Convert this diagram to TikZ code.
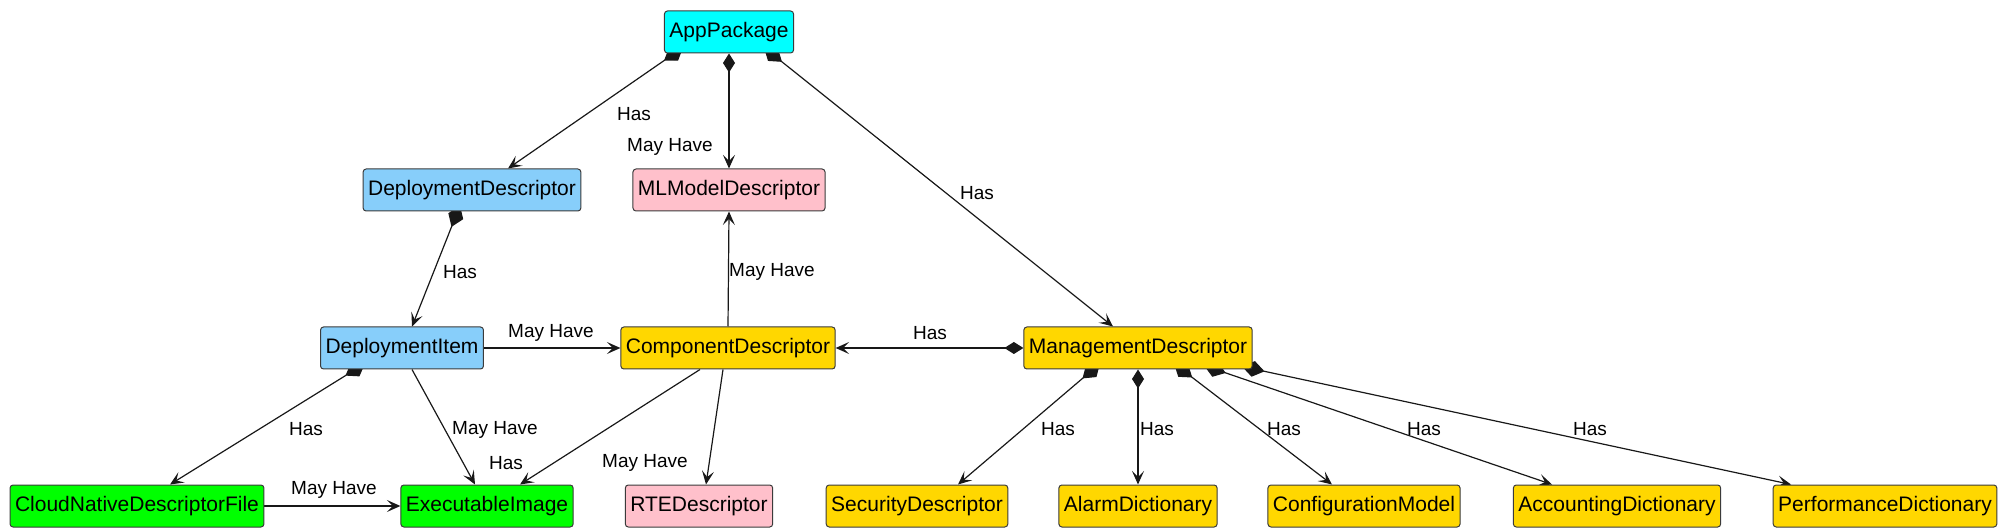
\documentclass[tikz,border=0pt]{standalone}
\usepackage{fontspec}
\setmainfont{Liberation Sans}
\usetikzlibrary{arrows.meta,calc}
\pgfdeclarelayer{bg}
\pgfsetlayers{bg,main}
\definecolor{cAqua}{HTML}{00FFFF}
\definecolor{cSky}{HTML}{87CEFA}
\definecolor{cPink}{HTML}{FFC0CB}
\definecolor{cGold}{HTML}{FFD700}
\definecolor{cLime}{HTML}{00FF00}
\definecolor{cLine}{HTML}{181818}
\begin{document}
\begin{tikzpicture}[x=0.5pt,y=-0.5pt,
  box/.style={draw=cLine!85, line width=0.5pt, rounded corners=1.5pt, minimum height=21pt,
    inner xsep=2.5pt, inner ysep=0pt, font=\fontsize{10.5}{12}\selectfont},
  lbl/.style={font=\fontsize{9.5}{11}\selectfont, inner sep=0pt},
  mayln/.style={draw=cLine, line width=0.6pt, -{Stealth[length=6.75pt,width=6pt,inset=3pt]}},
  hasln/.style={draw=cLine, line width=0.6pt, {Diamond[length=9.5pt,width=6pt]}-{Stealth[length=6.75pt,width=6pt,inset=3pt]}},
  hasbig/.style={hasln, {Diamond[length=11.5pt,width=8pt]}-{Stealth[length=6.75pt,width=6pt,inset=3pt]}}
]
\useasboundingbox (0,0) rectangle (2000,528);
% nodes
\node[box, fill=cAqua] (app) at (729,32) {AppPackage};
\node[box, fill=cSky] (dd) at (472,190) {DeploymentDescriptor};
\node[box, fill=cPink] (ml) at (729,190) {MLModelDescriptor};
\node[box, fill=cSky] (di) at (402,348) {DeploymentItem};
\node[box, fill=cGold] (comp) at (728,348) {ComponentDescriptor};
\node[box, fill=cGold] (mgmt) at (1138,348) {ManagementDescriptor};
\node[box, fill=cLime] (cndf) at (137,506) {CloudNativeDescriptorFile};
\node[box, fill=cLime] (exec) at (487,506) {ExecutableImage};
\node[box, fill=cPink] (rte) at (699,506) {RTEDescriptor};
\node[box, fill=cGold] (sec) at (917,506) {SecurityDescriptor};
\node[box, fill=cGold] (alarm) at (1138,506) {AlarmDictionary};
\node[box, fill=cGold] (config) at (1364,506) {ConfigurationModel};
\node[box, fill=cGold] (acct) at (1617,506) {AccountingDictionary};
\node[box, fill=cGold] (perf) at (1885,506) {PerformanceDictionary};
% connectors
\begin{pgfonlayer}{bg}
\draw[hasbig] ($(app.south)+(-46,-6)$) -- ($(dd.north)+(36,0)$);
\draw[hasln] (app.south) -- (ml.north);
\draw[hasbig] ($(app.south)+(35,-6)$) -- ($(mgmt.north)+(-25,0)$);
\draw[hasbig] ($(dd.south)+(-12,-6)$) -- ($(di.north)+(10,0)$);
\draw[mayln] (di.east) -- (comp.west);
\draw[mayln] (comp.north) -- (ml.south);
\draw[hasln] (mgmt.west) -- (comp.east);
\draw[hasbig] ($(di.south)+(-37,-6)$) -- ($(cndf.north)+(33,0)$);
\draw[mayln] ($(di.south)+(10,0)$) -- ($(exec.north)+(-12,0)$);
\draw[mayln] ($(comp.south)+(-28,0)$) -- ($(exec.north)+(33,0)$);
\draw[mayln] ($(comp.south)+(-5,0)$) -- ($(rte.north)+(7,0)$);
\draw[mayln] (cndf.east) -- (exec.west);
\draw[hasbig] ($(mgmt.south)+(-38,-6)$) -- ($(sec.north)+(41,0)$);
\draw[hasln] (mgmt.south) -- (alarm.north);
\draw[hasbig] ($(mgmt.south)+(36,-6)$) -- ($(config.north)+(-32,0)$);
\draw[hasbig] ($(mgmt.south)+(66,-4)$) -- ($(acct.north)+(-65,0)$);
\draw[hasbig] ($(mgmt.south)+(104,-3)$) -- ($(perf.north)+(-94,0)$);
\end{pgfonlayer}
% labels
\node[lbl] (l1) at (634,114) {Has};
\node[lbl] (l2) at (670,147) {May Have};
\node[lbl] (l3) at (977,193) {Has};
\node[lbl] (l4) at (460,272) {Has};
\node[lbl] (l5) at (551,333) {May Have};
\node[lbl] (l6) at (772,272) {May Have};
\node[lbl] (l7) at (930,333) {Has};
\node[lbl] (l8) at (306,429) {Has};
\node[lbl] (l9) at (495,430) {May Have};
\node[lbl] (l10) at (506,463) {Has};
\node[lbl] (l11) at (645,463) {May Have};
\node[lbl] (l12) at (334,490) {May Have};
\node[lbl] (l13) at (1058,429) {Has};
\node[lbl] (l14) at (1157,429) {Has};
\node[lbl] (l15) at (1284,429) {Has};
\node[lbl] (l16) at (1424,429) {Has};
\node[lbl] (l17) at (1590,429) {Has};
\end{tikzpicture}
\end{document}
